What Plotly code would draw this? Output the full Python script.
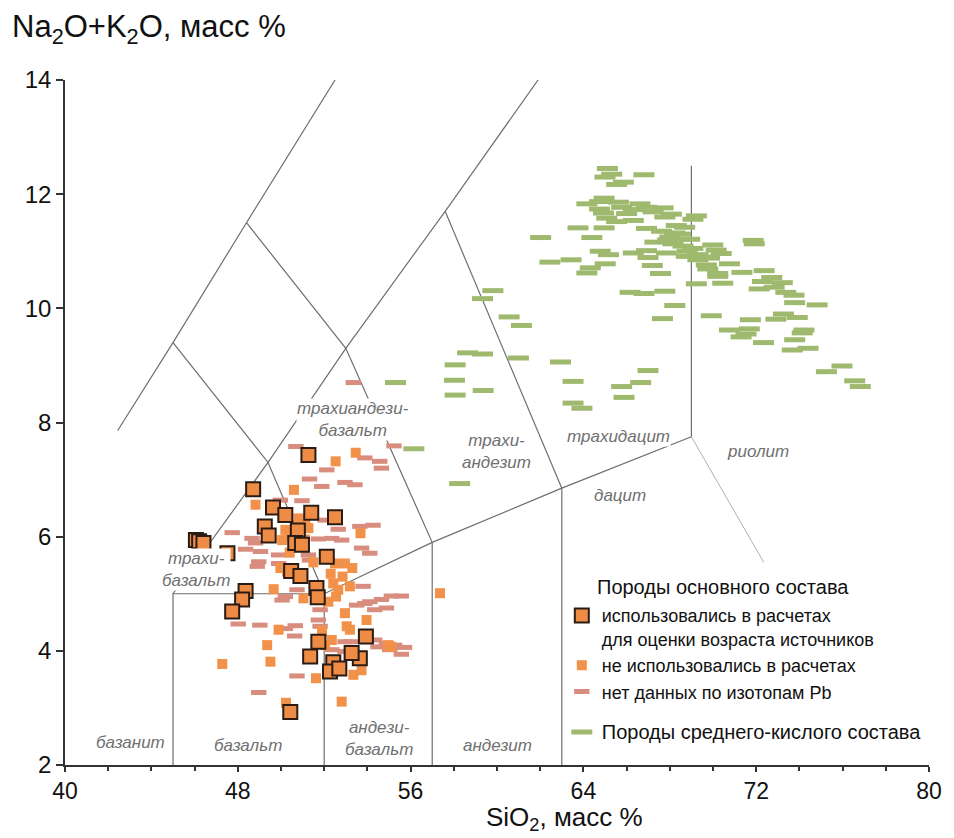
import plotly.graph_objects as go

# ---------------- data ----------------
# TAS boundary polylines (SiO2, Na2O+K2O)
line_A = [(42.44, 7.86), (45.0, 9.4), (48.4, 11.5), (52.5, 14.0)]
line_B = [(45.0, 5.0), (49.4, 7.3), (53.0, 9.3), (57.6, 11.7), (61.9, 14.0)]
line_C = [(45.0, 9.4), (49.4, 7.3), (52.0, 5.0)]
line_D = [(48.4, 11.5), (53.0, 9.3), (57.0, 5.9)]
line_E = [(57.6, 11.7), (63.0, 6.85)]
line_F = [(45.0, 2.0), (45.0, 5.0), (52.0, 5.0), (57.0, 5.9), (63.0, 6.85), (69.0, 7.75)]
line_G = [(52.0, 2.0), (52.0, 5.0)]
line_H = [(57.0, 2.0), (57.0, 5.9)]
line_I = [(63.0, 2.0), (63.0, 6.85)]
line_J = [(69.0, 7.75), (69.0, 12.5)]
line_K = [(69.0, 7.75), (72.35, 5.55)]

green_x = [65.11, 65.31, 65.00, 66.80, 65.85, 65.54, 64.96, 64.75, 65.62, 64.16, 66.62, 64.75,
           65.77, 66.31, 66.92, 67.69, 67.23, 64.93, 66.00, 68.07, 67.77, 65.08, 65.54, 66.31,
           69.23, 69.07, 63.75, 64.96, 66.92, 68.69, 67.62, 68.23, 62.02, 64.39, 68.00, 68.46,
           68.92, 67.31, 68.15, 68.61, 69.07, 69.99, 71.86, 71.91, 64.78, 65.16, 66.31, 66.92,
           67.84, 68.76, 69.30, 70.15, 70.38, 66.99, 69.30, 69.84, 62.45, 63.43, 65.01, 67.19,
           69.69, 70.76, 69.76, 64.32, 64.16, 67.57, 70.22, 71.34, 72.37, 70.22, 69.23, 70.45,
           72.29, 72.72, 73.21, 72.14, 72.83, 73.37, 73.75, 59.81, 59.33, 66.16, 66.80, 67.77,
           73.78, 74.82, 68.23, 60.56, 61.13, 67.66, 69.92, 73.26, 72.91, 73.90, 71.73, 70.76,
           71.68, 74.21, 71.53, 71.30, 74.13, 72.34, 73.78, 73.67, 74.40, 58.64, 59.33, 60.99,
           62.94, 58.06, 75.97, 75.25, 66.99, 63.52, 66.65, 58.03, 65.77, 76.56, 76.82, 59.36,
           58.06, 65.88, 63.52, 63.93, 55.30, 56.15, 58.27, 68.50, 68.80, 69.50, 68.30, 67.90]
green_y = [12.45, 12.35, 12.30, 12.34, 12.21, 12.17, 11.93, 11.87, 11.86, 11.83, 11.83, 11.74,
           11.77, 11.73, 11.77, 11.76, 11.69, 11.67, 11.66, 11.65, 11.60, 11.58, 11.52, 11.54,
           11.62, 11.56, 11.41, 11.41, 11.40, 11.42, 11.35, 11.32, 11.24, 11.24, 11.25, 11.21,
           11.21, 11.16, 11.13, 11.09, 11.05, 11.11, 11.19, 11.13, 11.00, 10.94, 10.97, 11.01,
           10.97, 10.91, 10.94, 11.02, 10.96, 10.89, 10.85, 10.88, 10.81, 10.85, 10.78, 10.75,
           10.76, 10.78, 10.69, 10.71, 10.62, 10.61, 10.61, 10.63, 10.66, 10.56, 10.43, 10.44,
           10.47, 10.54, 10.45, 10.34, 10.37, 10.28, 10.23, 10.31, 10.17, 10.28, 10.26, 10.30,
           10.10, 10.06, 10.05, 9.85, 9.70, 9.82, 9.87, 9.90, 9.81, 9.84, 9.80, 9.62,
           9.64, 9.62, 9.55, 9.50, 9.57, 9.40, 9.45, 9.27, 9.30, 9.22, 9.20, 9.13,
           9.06, 9.01, 8.99, 8.89, 8.91, 8.72, 8.70, 8.74, 8.63, 8.73, 8.63, 8.56,
           8.48, 8.44, 8.34, 8.25, 8.70, 7.54, 6.93, 11.30, 11.00, 10.90, 11.45, 11.20]

pink_x = [50.69, 52.12, 51.32, 51.89, 52.96, 53.42, 50.97, 49.97, 47.74, 48.66, 48.82, 48.36,
          49.05, 52.35, 52.81, 52.04, 52.65, 51.73, 48.97, 49.89, 51.27, 51.12, 53.88, 54.57,
          54.65, 55.23, 54.26, 53.65, 53.73, 54.11, 51.32, 48.90, 49.89, 50.05, 50.20, 50.74,
          53.80, 53.50, 53.88, 54.11, 54.65, 55.11, 55.57, 54.34, 54.88, 51.81, 51.73, 51.81,
          48.02, 49.02, 50.66, 50.63, 50.20, 52.96, 53.27, 54.49, 54.88, 55.26, 55.72, 55.03,
          55.57, 52.96, 52.35, 50.74, 48.97, 54.34, 53.35]
pink_y = [7.58, 7.17, 7.01, 6.88, 6.95, 6.91, 6.63, 6.64, 6.07, 5.97, 5.89, 5.78,
          5.74, 5.97, 5.94, 6.29, 6.13, 5.96, 5.56, 5.68, 5.68, 7.96, 7.38, 7.32,
          7.20, 7.59, 6.20, 6.18, 5.80, 5.71, 5.59, 5.48, 5.53, 4.89, 4.95, 5.07,
          5.13, 4.80, 4.83, 4.86, 4.90, 4.96, 4.96, 4.72, 4.75, 4.72, 4.54, 4.43,
          4.47, 4.45, 4.44, 4.26, 4.39, 4.16, 4.16, 4.07, 4.13, 4.10, 4.06, 4.02,
          3.94, 3.99, 4.02, 3.56, 3.27, 4.19, 8.70]

plain_x = [52.53, 53.46, 50.60, 48.82, 53.68, 57.36, 49.66, 49.89, 49.36, 47.28, 49.51, 51.62,
           52.81, 50.23, 52.96, 53.04, 53.96, 54.95, 55.10, 52.42, 52.19, 53.73, 53.35, 52.04,
           52.35, 50.35, 52.50, 52.96, 52.65, 53.19, 53.19, 53.88, 51.04, 51.12, 51.27, 50.20,
           50.35, 50.05, 50.81, 52.12, 49.97, 50.28, 51.10, 50.40, 51.50, 52.30, 52.85, 53.30,
           52.55, 51.90]
plain_y = [7.32, 7.47, 6.82, 6.56, 6.06, 5.01, 5.08, 4.37, 4.10, 3.77, 3.81, 3.52,
           3.11, 3.09, 4.66, 4.43, 4.54, 4.10, 4.07, 5.18, 4.86, 3.66, 3.58, 4.10,
           4.19, 5.39, 5.53, 5.53, 5.07, 5.13, 4.37, 4.25, 4.92, 6.29, 6.15, 6.12,
           6.00, 5.94, 6.32, 5.62, 5.45, 5.39, 5.95, 5.72, 5.55, 5.35, 5.30, 5.45,
           4.95, 4.35]

used_x = [51.27, 48.71, 49.63, 50.20, 51.40, 52.50, 49.25, 49.43, 50.78, 50.66, 50.97, 46.06,
          46.21, 46.41, 47.52, 52.12, 50.47, 50.90, 51.64, 51.70, 48.36, 48.20, 47.74, 51.73,
          51.35, 53.93, 53.65, 53.27, 52.42, 52.27, 52.70, 50.43]
used_y = [7.43, 6.83, 6.51, 6.38, 6.42, 6.34, 6.18, 6.02, 6.11, 5.89, 5.86, 5.94,
          5.92, 5.89, 5.71, 5.65, 5.40, 5.31, 5.10, 4.94, 5.05, 4.90, 4.69, 4.16,
          3.90, 4.25, 3.87, 3.96, 3.80, 3.64, 3.69, 2.93]

field_labels = ["трахиандези-<br>базальт", "трахи-<br>андезит", "трахидацит", "риолит", "дацит",
                "трахи-<br>базальт", "базанит", "базальт", "андези-<br>базальт", "андезит"]
field_x = [53.35, 59.97, 65.63, 72.08, 65.68, 46.07, 43.04, 48.47, 54.54, 60.02]
field_y = [8.05, 7.49, 7.75, 7.50, 6.73, 5.42, 2.39, 2.35, 2.47, 2.35]

x_ticks = [40, 48, 56, 64, 72, 80]
y_ticks = [2, 4, 6, 8, 10, 12, 14]

FONT = "Liberation Sans, Arial, sans-serif"

def join(polys):
    xs, ys = [], []
    for p in polys:
        for x, y in p:
            xs.append(x)
            ys.append(y)
        xs.append(None)
        ys.append(None)
    return xs, ys

fig = go.Figure()

bx, by = join([line_A, line_B, line_C, line_D, line_E, line_F, line_G, line_H, line_I, line_J])
fig.add_trace(go.Scatter(x=bx, y=by, mode="lines", line=dict(color="#6e6e6e", width=1.2),
                         showlegend=False, hoverinfo="skip"))
kx, ky = join([line_K])
fig.add_trace(go.Scatter(x=kx, y=ky, mode="lines", line=dict(color="#b0b0b0", width=1),
                         showlegend=False, hoverinfo="skip"))

fig.add_trace(go.Scatter(
    x=green_x, y=green_y, mode="markers",
    name='<span style="font-size:20px">Породы среднего-кислого состава</span>',
    legendgroup="acid", legendrank=4,
    marker=dict(symbol="line-ew", size=15, color="#9fba6e", line=dict(color="#9fba6e", width=5))))
fig.add_trace(go.Scatter(
    x=pink_x, y=pink_y, mode="markers", name="нет данных по изотопам Pb",
    legendgroup="basic", legendrank=3,
    marker=dict(symbol="line-ew", size=11, color="#d88d7e", line=dict(color="#d88d7e", width=5))))
fig.add_trace(go.Scatter(
    x=plain_x, y=plain_y, mode="markers", name="не использовались в расчетах",
    legendgroup="basic", legendrank=2,
    marker=dict(symbol="square", size=10, color="#f2924a", line=dict(width=0))))
fig.add_trace(go.Scatter(
    x=used_x, y=used_y, mode="markers",
    name="использовались в расчетах<br>для оценки возраста источников",
    legendgroup="basic", legendrank=1,
    marker=dict(symbol="square", size=14, color="#ee8c46", line=dict(color="#2a1c14", width=2))))

for t, x, y in zip(field_labels, field_x, field_y):
    fig.add_annotation(x=x, y=y, text=t, showarrow=False, align="center",
                       font=dict(family=FONT, size=17, color="#707070", style="italic"),
                       bgcolor="white", borderpad=0)

fig.add_annotation(xref="paper", yref="paper", x=-0.064, y=1.075, xanchor="left", yanchor="middle",
                   text="Na<sub>2</sub>O+K<sub>2</sub>O, масс %", showarrow=False,
                   font=dict(family=FONT, size=31, color="#111"))
fig.add_annotation(xref="paper", yref="paper", x=0.578, y=-0.1055, xanchor="center", yanchor="bottom",
                   text="SiO<sub>2</sub>, масс %", showarrow=False,
                   font=dict(family=FONT, size=26, color="#111"))
fig.add_annotation(xref="paper", yref="paper", x=0.614, y=0.26, xanchor="left", yanchor="middle",
                   text="Породы основного состава", showarrow=False,
                   font=dict(family=FONT, size=20, color="#111"))

fig.update_layout(
    width=954, height=838,
    margin=dict(l=65, r=20, t=80, b=73),
    paper_bgcolor="white", plot_bgcolor="white",
    font=dict(family=FONT, color="#111"),
    legend=dict(x=0.575, y=0.245, xanchor="left", yanchor="top",
                font=dict(family=FONT, size=18, color="#111"),
                bgcolor="rgba(0,0,0,0)", traceorder="grouped", tracegroupgap=14,
                valign="top", itemsizing="trace"),
    xaxis=dict(range=[40, 80], tickmode="array", tickvals=x_ticks, ticks="outside",
               ticklen=5, tickwidth=1.5, tickcolor="#333", showgrid=False, zeroline=False,
               showline=True, linecolor="#333", linewidth=1.5,
               tickfont=dict(family=FONT, size=23, color="#111"),
               minor=dict(tickmode="linear", tick0=40, dtick=2, ticks="outside", ticklen=4,
                          tickwidth=1.5, tickcolor="#333", showgrid=False)),
    yaxis=dict(range=[2, 14], tickmode="array", tickvals=y_ticks, ticks="outside",
               ticklen=7, tickwidth=1.5, tickcolor="#333", showgrid=False, zeroline=False,
               showline=True, linecolor="#333", linewidth=1.5,
               tickfont=dict(family=FONT, size=24, color="#111")),
)

fig.write_html("out.html")
